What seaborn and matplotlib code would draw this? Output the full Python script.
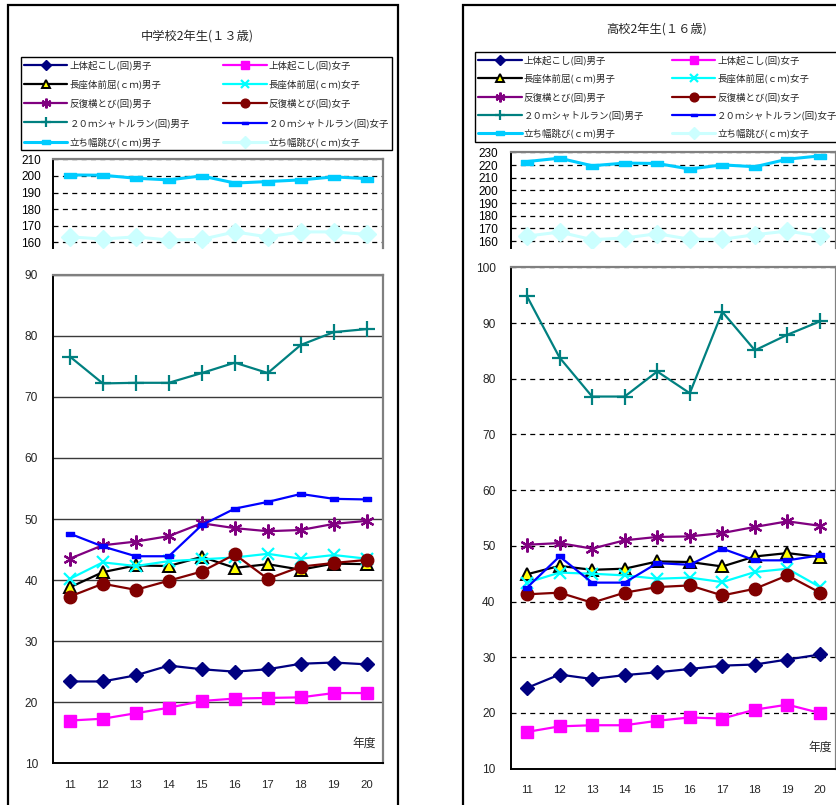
import numpy as np
import pandas as pd
import matplotlib
matplotlib.use("Agg")
import matplotlib.pyplot as plt
import seaborn as sns
from matplotlib.patches import Rectangle
from matplotlib.path import Path
from matplotlib.lines import Line2D

sns.set_style("white")
plt.rcParams["font.family"] = ["Liberation Sans", "Noto Sans CJK JP", "DejaVu Sans"]

years = [11, 12, 13, 14, 15, 16, 17, 18, 19, 20]

# 中学校2年生(13歳)
jh_situp_b = [23.4, 23.4, 24.4, 26.0, 25.4, 25.0, 25.4, 26.3, 26.5, 26.2]
jh_situp_g = [17.0, 17.3, 18.2, 19.1, 20.2, 20.6, 20.7, 20.8, 21.5, 21.5]
jh_reach_b = [38.8, 41.3, 42.4, 42.3, 43.8, 42.0, 42.6, 41.7, 42.7, 42.6]
jh_reach_g = [40.2, 42.9, 42.3, 43.1, 43.4, 43.7, 44.3, 43.5, 44.1, 43.5]
jh_step_b = [43.5, 45.7, 46.3, 47.2, 49.3, 48.5, 48.0, 48.2, 49.2, 49.7]
jh_step_g = [37.3, 39.4, 38.4, 39.9, 41.4, 44.2, 40.2, 42.2, 42.8, 43.3]
jh_shuttle_b = [76.6, 72.2, 72.3, 72.3, 73.9, 75.6, 73.9, 78.5, 80.6, 81.1]
jh_shuttle_g = [47.6, 45.5, 43.9, 43.9, 49.0, 51.7, 52.8, 54.1, 53.3, 53.2]
jh_jump_b = [200.6, 200.4, 198.6, 197.6, 200.0, 195.7, 196.6, 197.6, 199.4, 198.4]
jh_jump_g = [163.3, 162.0, 163.3, 161.4, 161.8, 166.3, 163.3, 166.3, 166.3, 164.8]

# 高校2年生(16歳)
hs_situp_b = [24.5, 26.9, 26.1, 26.8, 27.3, 27.9, 28.5, 28.7, 29.6, 30.5]
hs_situp_g = [16.6, 17.6, 17.8, 17.8, 18.6, 19.2, 19.0, 20.6, 21.5, 20.0]
hs_reach_b = [44.9, 46.4, 45.7, 45.9, 47.2, 47.1, 46.3, 48.1, 48.7, 48.0]
hs_reach_g = [43.4, 45.2, 45.0, 44.7, 44.1, 44.3, 43.5, 45.3, 45.9, 42.6]
hs_step_b = [50.2, 50.5, 49.5, 51.0, 51.6, 51.7, 52.3, 53.4, 54.4, 53.6]
hs_step_g = [41.3, 41.6, 39.8, 41.6, 42.6, 42.9, 41.1, 42.3, 44.7, 41.6]
hs_shuttle_b = [94.8, 83.8, 76.8, 76.8, 81.3, 77.4, 92.0, 85.1, 87.9, 90.3]
hs_shuttle_g = [42.5, 48.1, 43.4, 43.4, 46.9, 46.6, 49.5, 47.4, 47.4, 48.3]
hs_jump_b = [222.8, 225.5, 219.5, 221.6, 221.3, 216.9, 220.2, 218.7, 224.7, 227.3]
hs_jump_g = [163.9, 167.1, 161.1, 162.4, 165.8, 161.4, 161.4, 165.0, 167.9, 163.9]

labels = [
    "上体起こし(回)男子", "上体起こし(回)女子",
    "長座体前屈(ｃｍ)男子", "長座体前屈(ｃｍ)女子",
    "反復横とび(回)男子", "反復横とび(回)女子",
    "２０ｍシャトルラン(回)男子", "２０ｍシャトルラン(回)女子",
    "立ち幅跳び(ｃｍ)男子", "立ち幅跳び(ｃｍ)女子",
]

dash_marker = Path([(-1, -0.45), (1, -0.45), (1, 0.45), (-1, 0.45), (-1, -0.45)],
                   [Path.MOVETO, Path.LINETO, Path.LINETO, Path.LINETO, Path.CLOSEPOLY])

# line style for each series (same order as labels)
styles = [
    dict(color="#000080", marker="D", ms=7.5, mfc="#000080", mec="#000080", lw=1.6),
    dict(color="#FF00FF", marker="s", ms=9, mfc="#FF00FF", mec="#FF00FF", lw=1.6),
    dict(color="#000000", marker="^", ms=9, mfc="#FFFF00", mec="#000000", lw=1.6, mew=1.4),
    dict(color="#00FFFF", marker="x", ms=9, mfc="#00FFFF", mec="#00FFFF", lw=1.6, mew=1.6),
    dict(color="#800080", marker=(6, 2, 0), ms=10, mfc="#800080", mec="#800080", lw=1.6, mew=1.6),
    dict(color="#800000", marker="o", ms=9, mfc="#800000", mec="#800000", lw=1.6),
    dict(color="#008080", marker="+", ms=11, mfc="#008080", mec="#008080", lw=1.6, mew=1.6),
    dict(color="#0000FF", marker=dash_marker, ms=6, mfc="#0000FF", mec="#0000FF", lw=1.6),
    dict(color="#00CCFF", marker=dash_marker, ms=8, mfc="#00CCFF", mec="#00CCFF", lw=2.2),
    dict(color="#CCFFFF", marker="D", ms=9, mfc="#CCFFFF", mec="#CCFFFF", lw=2.2),
]

W, H = 837, 805
fig = plt.figure(figsize=(W / 100, H / 100), dpi=100)


def px_axes(l, t, r, b):
    return fig.add_axes([l / W, 1 - b / H, (r - l) / W, (b - t) / H])


def draw_series(ax, vals, st, z):
    df = pd.DataFrame({"年度": years, "値": vals})
    sns.lineplot(data=df, x="年度", y="値", ax=ax, color=st["color"], marker=st["marker"],
                 markersize=st["ms"], markerfacecolor=st["mfc"], markeredgecolor=st["mec"],
                 markeredgewidth=st.get("mew", 1.0), linewidth=st["lw"], legend=False,
                 zorder=z, clip_on=False)


def style_frame(ax, hide_bottom=False):
    for side in ["top", "right"]:
        ax.spines[side].set_color("#808080")
        ax.spines[side].set_linewidth(1.6)
    ax.spines["left"].set_color("#000000")
    ax.spines["left"].set_linewidth(1.4)
    ax.spines["bottom"].set_color("#000000")
    ax.spines["bottom"].set_linewidth(1.4)
    if hide_bottom:
        ax.spines["bottom"].set_visible(False)
    ax.set_xlabel("")
    ax.set_ylabel("")


def panel(title, tx, ty, main_box, upper_box, legend_box, lspacing, main_top, upper_lim,
          upper_ticks, main_grid_dashed, series, label_x, label_y):
    # upper axis: 立ち幅跳び
    axu = px_axes(*upper_box)
    for i in (8, 9):
        draw_series(axu, series[i], styles[i], 3 + i)
    axu.set_xlim(10.5, 20.5)
    axu.set_ylim(*upper_lim)
    axu.set_yticks(upper_ticks)
    axu.set_xticks([])
    axu.yaxis.grid(True, color="#000000", linestyle=(0, (4, 3.5)), linewidth=0.9)
    axu.set_axisbelow(True)
    axu.tick_params(axis="y", length=3, direction="out", pad=6, labelsize=8.5, colors="#000000")
    style_frame(axu, hide_bottom=True)
    for c in axu.lines:
        c.set_clip_on(True)

    # main axis
    ax = px_axes(*main_box)
    for i in range(8):
        draw_series(ax, series[i], styles[i], 3 + i)
    ax.set_xlim(10.5, 20.5)
    ax.set_ylim(10, main_top)
    ax.set_yticks(np.arange(10, main_top + 1, 10))
    ax.set_xticks(years)
    ax.set_xticklabels([str(y) for y in years])
    ax.set_xticks(np.arange(10.5, 20.6, 1), minor=True)
    ax.tick_params(axis="x", which="major", length=0, pad=12, labelsize=8.2)
    ax.tick_params(axis="x", which="minor", length=5, width=1.2, direction="out", color="#000000")
    ax.tick_params(axis="y", length=3, direction="out", pad=8, labelsize=8.6)
    if main_grid_dashed:
        ax.yaxis.grid(True, color="#000000", linestyle=(0, (4, 3.5)), linewidth=0.9)
    else:
        ax.yaxis.grid(True, color="#3a3a3a", linestyle="-", linewidth=1.0)
    ax.set_axisbelow(True)
    style_frame(ax)
    ax.text(label_x, label_y, "年度", transform=ax.transAxes, ha="right", va="center",
            fontsize=8.5, family=["Noto Sans CJK JP"])

    # legend
    handles = [Line2D([], [], color=s["color"], marker=s["marker"], markersize=s["ms"] * 0.7,
                      markerfacecolor=s["mfc"], markeredgecolor=s["mec"],
                      markeredgewidth=s.get("mew", 1.0), linewidth=s["lw"]) for s in styles]
    order = [0, 2, 4, 6, 8, 1, 3, 5, 7, 9]
    l, t, r, b = legend_box
    leg = fig.legend([handles[i] for i in order], [labels[i] for i in order], ncol=2,
                     loc="upper left", bbox_to_anchor=(l / W, 1 - b / H, (r - l) / W, (b - t) / H),
                     bbox_transform=fig.transFigure, mode="expand", borderaxespad=0,
                     frameon=True, fancybox=False, edgecolor="#000000", framealpha=1,
                     prop={"family": ["Noto Sans CJK JP"], "size": 6.8},
                     handlelength=4.6, handletextpad=0.2, labelspacing=lspacing, borderpad=0.35,
                     numpoints=1)
    leg.get_frame().set_linewidth(1.0)

    fig.text(tx / W, 1 - ty / H, title, ha="center", va="center", fontsize=8.8,
             family=["Noto Sans CJK JP"])


jh = [jh_situp_b, jh_situp_g, jh_reach_b, jh_reach_g, jh_step_b, jh_step_g,
      jh_shuttle_b, jh_shuttle_g, jh_jump_b, jh_jump_g]
hs = [hs_situp_b, hs_situp_g, hs_reach_b, hs_reach_g, hs_step_b, hs_step_g,
      hs_shuttle_b, hs_shuttle_g, hs_jump_b, hs_jump_g]

# outer frames of the two panels
fig.patches.append(Rectangle((8.3 / W, -0.05), (398.3 - 8.3) / W, 1.05 - 5.3 / H,
                             transform=fig.transFigure, fill=False, edgecolor="#000000",
                             linewidth=1.6, zorder=0))
fig.patches.append(Rectangle((463.3 / W, -0.05), 0.6, 1.05 - 5.3 / H,
                             transform=fig.transFigure, fill=False, edgecolor="#000000",
                             linewidth=1.6, zorder=0))

panel("中学校2年生(１３歳)", 197.5, 35.7,
      (53.3, 274.7, 383.3, 763.3), (53.3, 159.3, 383.3, 248.0), (20.7, 57.3, 392.3, 151.0), 0.99,
      90, (156.6, 210), np.arange(160, 211, 10), False, jh, 0.978, 0.041)

panel("高校2年生(１６歳)", 656.7, 29.0,
      (510.7, 267.3, 836.3, 768.7), (510.7, 151.7, 836.3, 248.0), (475.0, 52.3, 841.0, 144.3), 0.9,
      100, (154.5, 230.6), np.arange(160, 231, 10), True, hs, 0.986, 0.042)

fig.savefig("out.png", dpi=100)
